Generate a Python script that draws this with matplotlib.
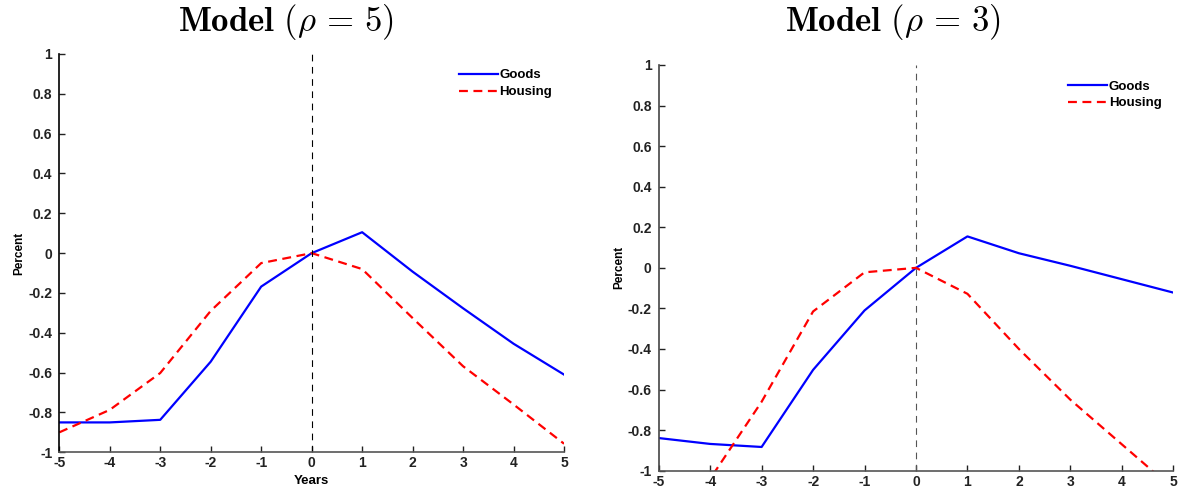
import matplotlib
matplotlib.use("Agg")
import matplotlib.pyplot as plt

plt.rcParams['font.family'] = ['Liberation Sans', 'DejaVu Sans']
plt.rcParams['mathtext.fontset'] = 'cm'

years = [-5, -4, -3, -2, -1, 0, 1, 2, 3, 4, 5]

goods_rho5 = [-0.85, -0.85, -0.837, -0.545, -0.168, 0.0, 0.105, -0.093, -0.277, -0.455, -0.61]
housing_rho5 = [-0.90, -0.787, -0.602, -0.29, -0.05, 0.0, -0.08, -0.326, -0.568, -0.76, -0.957]

goods_rho3 = [-0.839, -0.868, -0.883, -0.503, -0.21, 0.0, 0.155, 0.072, 0.01, -0.056, -0.122]
housing_rho3 = [-1.45, -1.04, -0.66, -0.215, -0.022, 0.0, -0.128, -0.40, -0.65, -0.87, -1.09]

titles = [r'$\mathbf{Model\ (}\rho\,=\,\mathbf{5)}$', r'$\mathbf{Model\ (}\rho\,=\,\mathbf{3)}$']
yticks = [-1, -0.8, -0.6, -0.4, -0.2, 0, 0.2, 0.4, 0.6, 0.8, 1]
ytick_labels = ['-1', '-0.8', '-0.6', '-0.4', '-0.2', '0', '0.2', '0.4', '0.6', '0.8', '1']
xticks = years
xtick_labels = [str(v) for v in years]

fig = plt.figure(figsize=(11.83, 4.98), dpi=100)
ax1 = fig.add_axes([0.0501, 0.0918, 0.4267, 0.7998])
ax2 = fig.add_axes([0.5568, 0.0548, 0.4350, 0.8147])

panels = [
    (ax1, goods_rho5, housing_rho5, titles[0], 'black', 'black', 0.2413, True),
    (ax2, goods_rho3, housing_rho3, titles[1], '#555555', '#444444', 0.7549, False),
]

for ax, g, h, title, vcol, spcol, tx, show_xlabel in panels:
    ax.plot(years, g, color='#0000ff', lw=1.6, label='Goods')
    ax.plot(years, h, color='#ff0000', lw=1.6, ls=(0, (4, 2.5)), label='Housing')
    ax.plot([0, 0], [-1, 1], color=vcol, lw=0.8, ls=(0, (6, 5)))
    ax.set_xlim(-5, 5)
    ax.set_ylim(-1, 1)
    ax.set_xticks(xticks)
    ax.set_xticklabels(xtick_labels)
    ax.set_yticks(yticks)
    ax.set_yticklabels(ytick_labels)
    ax.tick_params(direction='in', length=4, width=1, labelsize=10, colors='#222222')
    ax.tick_params(axis='y', pad=5)
    ax.tick_params(axis='x', pad=3)
    for lab in ax.get_xticklabels() + ax.get_yticklabels():
        lab.set_fontweight('bold')
    ax.spines['top'].set_visible(False)
    ax.spines['right'].set_visible(False)
    ax.spines['left'].set_color(spcol)
    ax.spines['bottom'].set_color('#555555')
    ax.spines['left'].set_linewidth(1.2)
    ax.spines['bottom'].set_linewidth(1.2)
    ax.set_ylabel('Percent', fontsize=8.5, fontweight='bold', labelpad=2)
    if show_xlabel:
        ax.set_xlabel('Years', fontsize=9.5, fontweight='bold', labelpad=3)
    fig.text(tx, 0.956, title, fontsize=25, ha='center', va='center')
    leg = ax.legend(loc='upper right', frameon=False, fontsize=9.5, handlelength=2.9,
                    handletextpad=0.15, borderaxespad=0.3, labelspacing=0.35,
                    bbox_to_anchor=(0.995, 0.985))
    for t in leg.get_texts():
        t.set_fontweight('bold')

fig.savefig('out.png', dpi=100)
